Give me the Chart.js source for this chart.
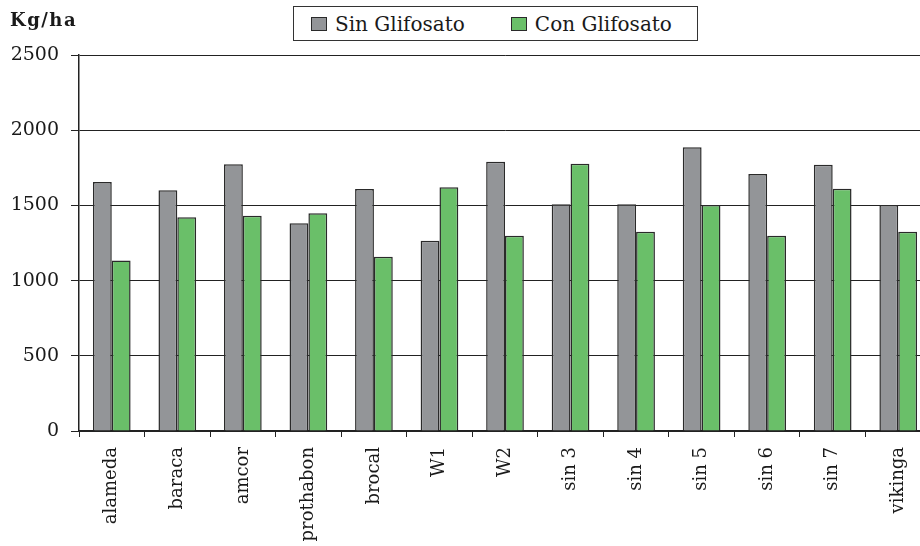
<!DOCTYPE html>
<html>
<head>
<meta charset="utf-8">
<script src="https://cdn.jsdelivr.net/npm/chart.js@4/dist/chart.umd.min.js"></script>
<style>
  html, body { margin: 0; padding: 0; background: #fff; overflow: hidden; }
  #wrap { position: relative; width: 920px; height: 546px; overflow: hidden; }
  #chart { position: absolute; left: 0; top: 0; }
  #unit { position: absolute; left: 10px; top: 9px; font-family: "DejaVu Serif", serif; font-weight: bold; font-size: 18px; letter-spacing: 1.5px; color: #1a1a1a; }
  #legend {
    position: absolute; left: 293px; top: 6px; width: 403px; height: 33px;
    border: 1.5px solid #333; background: #fff;
    display: flex; align-items: center;
  }
  .item { display: flex; align-items: center; font-family: "DejaVu Serif", serif; font-size: 20px; color: #1a1a1a; }
  .swatch { width: 14px; height: 12px; border: 1.5px solid #2a2a2a; margin-right: 8px; }
</style>
</head>
<body>
<div id="wrap">
  <canvas id="chart" width="931" height="546"></canvas>
  <div id="unit">Kg/ha</div>
  <div id="legend"></div>
</div>
<script>
const categories = ['alameda', 'baraca', 'amcor', 'prothabon', 'brocal', 'W1', 'W2',
  'sin 3', 'sin 4', 'sin 5', 'sin 6', 'sin 7', 'vikinga']
const sinGlifosato = [1655, 1600, 1773, 1381, 1609, 1265, 1791, 1507, 1507, 1886, 1709, 1771, 1503]
const conGlifosato = [1133, 1421, 1432, 1447, 1159, 1620, 1299, 1777, 1325, 1503, 1299, 1611, 1325]
const yTicks = [0, 500, 1000, 1500, 2000, 2500]

const ink = '#222'
const serif = '"DejaVu Serif", serif'

const chart = new Chart(document.getElementById('chart'), {
  type: 'bar',
  data: {
    labels: categories,
    datasets: [
      { label: 'Sin Glifosato', data: sinGlifosato, backgroundColor: '#939598',
        borderColor: '#2a2a2a', borderWidth: 1.5 },
      { label: 'Con Glifosato', data: conGlifosato, backgroundColor: '#6abf69',
        borderColor: '#2a2a2a', borderWidth: 1.5 }
    ]
  },
  options: {
    responsive: false,
    animation: false,
    datasets: { bar: { barPercentage: 1, categoryPercentage: 0.575 } },
    layout: { padding: { top: 55, left: 0, right: 0, bottom: 0 } },
    plugins: { legend: { display: false }, tooltip: { enabled: false } },
    scales: {
      y: {
        min: yTicks[0],
        max: yTicks[yTicks.length - 1],
        afterBuildTicks: s => { s.ticks = yTicks.map(v => ({ value: v })) },
        ticks: { font: { family: serif, size: 19 }, color: '#1a1a1a', padding: 12,
          callback: v => String(v) },
        grid: { color: ink, lineWidth: 1, tickLength: 8 },
        border: { color: ink, width: 1.5 },
        afterFit: s => { s.width = 79 }
      },
      x: {
        offset: true,
        grid: { drawOnChartArea: false, color: ink, tickLength: 6, offset: true },
        border: { color: ink, width: 1.5 },
        ticks: { font: { family: serif, size: 18 }, color: '#1a1a1a', padding: 10,
          maxRotation: 90, minRotation: 90, autoSkip: false },
        afterFit: s => { s.height = 115 }
      }
    }
  }
})

// legend drawn as html, from the chart's own datasets
const legend = document.getElementById('legend')
chart.data.datasets.forEach((ds, i) => {
  const item = document.createElement('div')
  item.className = 'item'
  item.style.marginLeft = i === 0 ? '17px' : '46px'
  const sw = document.createElement('div')
  sw.className = 'swatch'
  sw.style.background = ds.backgroundColor
  const txt = document.createElement('span')
  txt.innerText = ds.label
  item.appendChild(sw)
  item.appendChild(txt)
  legend.appendChild(item)
})
</script>
</body>
</html>
